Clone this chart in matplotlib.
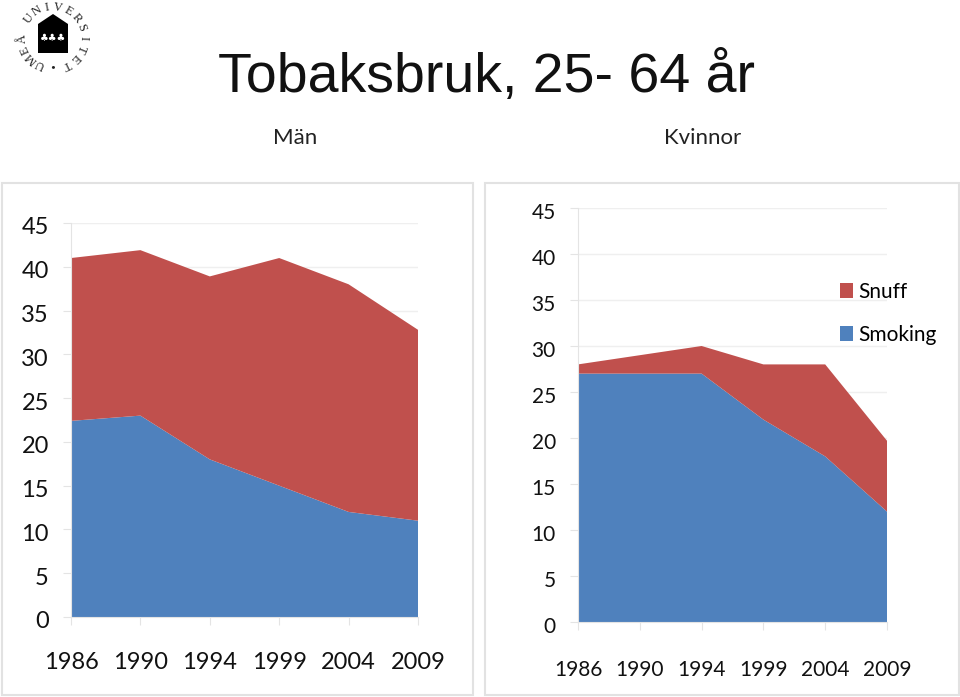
import numpy as np
import matplotlib
matplotlib.use('Agg')
import matplotlib.pyplot as plt
from matplotlib.patches import Rectangle, Polygon
from matplotlib.transforms import ScaledTranslation

W, H = 960, 697

years = ['1986', '1990', '1994', '1999', '2004', '2009']
men_smoking = [22.4, 23, 18, 15, 12, 11]
men_snuff = [18.6, 18.9, 20.9, 26, 26, 21.8]
women_smoking = [27, 27, 27, 22, 18, 12]
women_snuff = [1, 2, 3, 6, 10, 7.7]
yticks = [0, 5, 10, 15, 20, 25, 30, 35, 40, 45]

BLUE = '#4f81bd'
RED = '#c0504d'
GRID = '#efefef'
PANEL = '#e2e2e2'
AXIS = '#e4e4e4'

plt.rcParams['font.family'] = ['Lato', 'DejaVu Sans']

fig = plt.figure(figsize=(W / 100, H / 100), dpi=100)


# pixel box from the top left corner -> figure axes
def pixel_axes(x0, y0, x1, y1):
    return fig.add_axes([x0 / W, 1 - y1 / H, (x1 - x0) / W, (y1 - y0) / H])


# background layer in pixel coordinates
bg = fig.add_axes([0, 0, 1, 1])
bg.set_xlim(0, W)
bg.set_ylim(H, 0)
bg.axis('off')
bg.add_patch(Rectangle((2, 183), 471, 512, fc='white', ec=PANEL, lw=1.5))
bg.add_patch(Rectangle((485, 183), 474, 512, fc='white', ec=PANEL, lw=1.5))

bg.text(218, 92, 'Tobaksbruk, 25- 64 år', fontsize=40, family='Liberation Sans',
        color='#111111', ha='left', va='baseline')
bg.text(295, 138, 'Män', fontsize=16, color='#222222', ha='center', va='center')
bg.text(703, 138, 'Kvinnor', fontsize=16, color='#222222', ha='center', va='center')

# logo
bg.add_patch(Polygon([[38, 24], [53, 14], [68, 24], [68, 53], [38, 53]], fc='black', ec='none'))
bg.text(53, 38, '♣♣♣', fontsize=7, color='white', ha='center', va='center', family='DejaVu Sans')
cx, cy, rad = 53, 37, 30
logo_text = 'UMEÅ UNIVERSITET'
angles = np.linspace(246, -64, len(logo_text))
for ch, a in zip(logo_text, angles):
    t = np.deg2rad(a)
    bg.text(cx + rad * np.cos(t), cy - rad * np.sin(t), ch, fontsize=9, family='Liberation Serif',
            rotation=a - 90, rotation_mode='anchor', ha='center', va='center', color='#222222')
bg.text(53, 67, '•', fontsize=6, ha='center', va='center', color='#222222')


def area_chart(box, smoking, snuff, fs, xpad, ypad):
    ax = pixel_axes(*box)
    ax.patch.set_alpha(0)
    x = np.arange(len(years))
    ax.stackplot(x, smoking, snuff, colors=[BLUE, RED], labels=['Smoking', 'Snuff'], zorder=2)
    ax.set_xlim(0, len(years) - 1)
    ax.set_ylim(0, 45)
    ax.set_yticks(yticks)
    ax.set_xticks(x)
    ax.set_xticklabels(years)
    ax.grid(axis='y', color=GRID, lw=1, zorder=0)
    ax.tick_params(axis='both', labelsize=fs, color=AXIS, length=6, labelcolor='#111111')
    ax.tick_params(axis='x', pad=xpad, direction='out')
    ax.tick_params(axis='y', pad=ypad, direction='out')
    for s in ['top', 'right']:
        ax.spines[s].set_visible(False)
    ax.spines['left'].set_color(AXIS)
    ax.spines['bottom'].set_color(AXIS)
    # y labels sit about 3 px under their gridlines in the original
    offset = ScaledTranslation(0, -3 / 100, fig.dpi_scale_trans)
    for lab in ax.get_yticklabels():
        lab.set_transform(lab.get_transform() + offset)
    return ax


ax1 = area_chart((71, 223, 418, 617), men_smoking, men_snuff, 17, 19, 10)
ax2 = area_chart((578, 208, 887, 622), women_smoking, women_snuff, 15, 21, 10)

handles, labels = ax2.get_legend_handles_labels()
leg = ax2.legend(handles[::-1], labels[::-1], loc='upper left', bbox_to_anchor=(0.848, 0.822),
                 frameon=False, fontsize=15, handlelength=0.62, handleheight=0.7,
                 handletextpad=0.25, labelspacing=1.1, borderpad=0, borderaxespad=0)

fig.savefig('out.png', dpi=100)
